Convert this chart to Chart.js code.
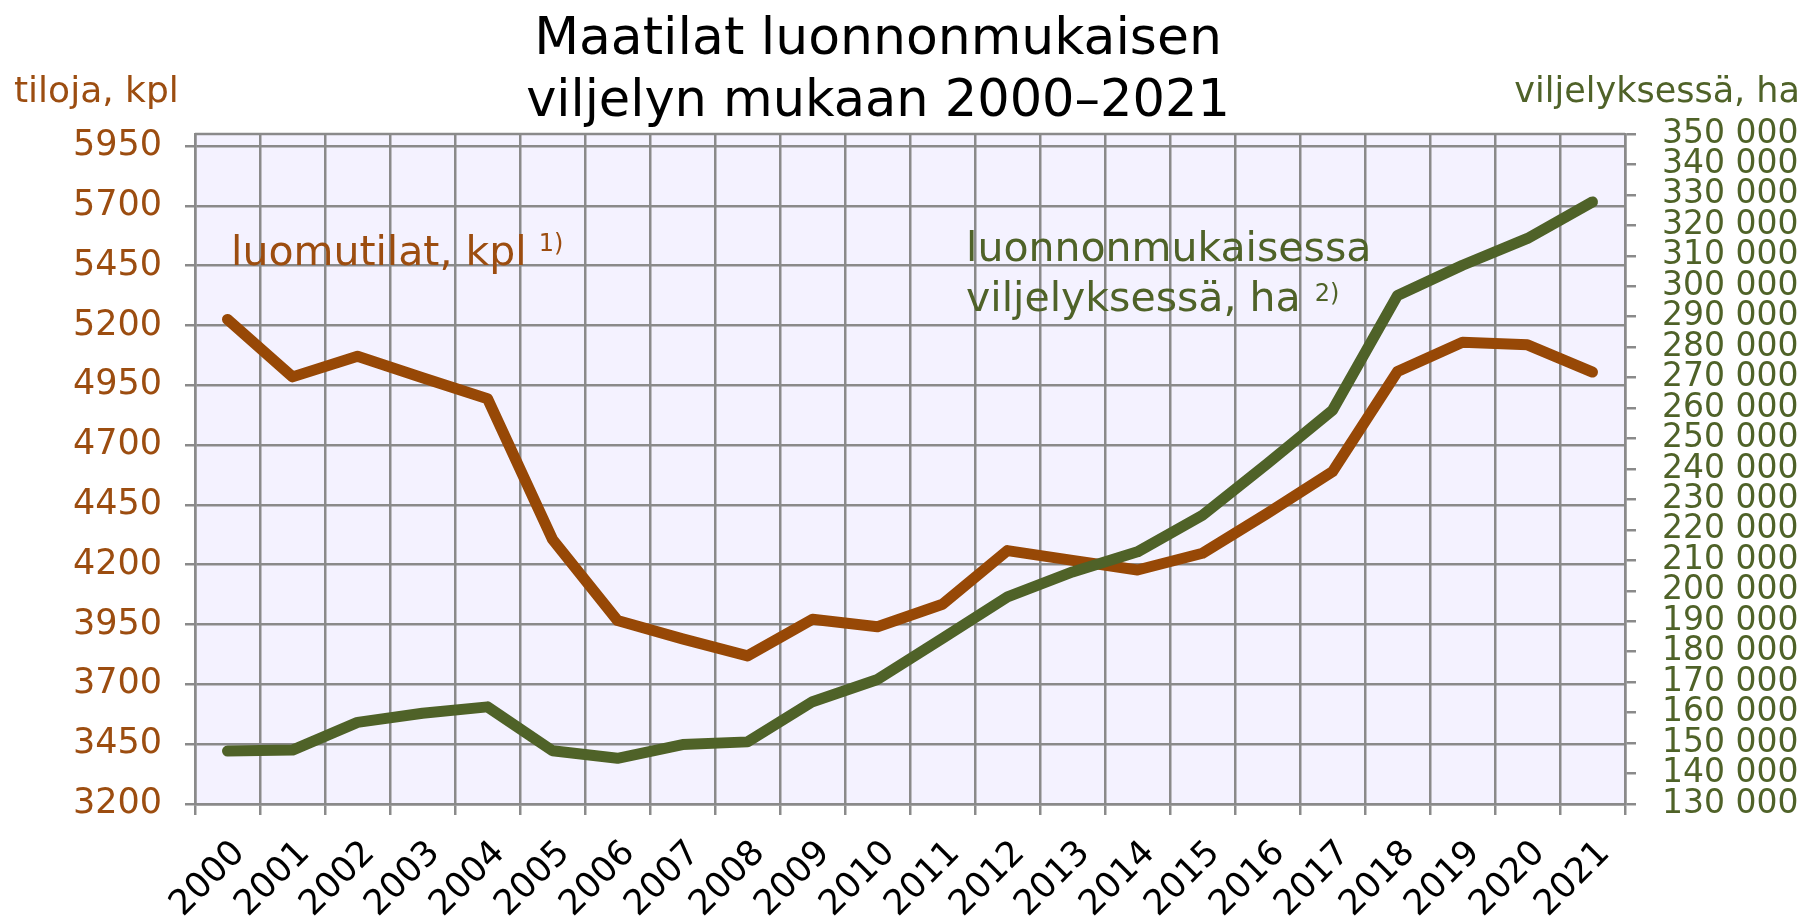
<!DOCTYPE html>
<html>
<head>
<meta charset="utf-8">
<script src="https://cdn.jsdelivr.net/npm/chart.js@4.4.1/dist/chart.umd.min.js"></script>
<style>
  html, body { margin: 0; padding: 0; background: #ffffff; }
  #wrap { width: 1812px; height: 918px; }
</style>
</head>
<body>
<div id="wrap"><canvas id="chart" width="1812" height="918"></canvas></div>
<script>
// data
const years = ['2000', '2001', '2002', '2003', '2004', '2005', '2006', '2007', '2008', '2009', '2010',
	'2011', '2012', '2013', '2014', '2015', '2016', '2017', '2018', '2019', '2020', '2021'];

// luomutilat, kpl (left axis)
const farms = [5225, 4985, 5071, 4981, 4894, 4306, 3967, 3890, 3819, 3972, 3941,
	4035, 4259, 4218, 4178, 4248, 4415, 4589, 5007, 5130, 5119, 5005];

// luonnonmukaisessa viljelyksessä, ha (right axis)
const hectares = [147400, 147700, 156800, 159800, 161900, 147500, 145000, 149500, 150400, 163600, 170900,
	184400, 198000, 206200, 212800, 224800, 241800, 259300, 297000, 306900, 315700, 327700];

const leftTicks = [3200, 3450, 3700, 3950, 4200, 4450, 4700, 4950, 5200, 5450, 5700, 5950];
const rightTicks = [130000, 140000, 150000, 160000, 170000, 180000, 190000, 200000, 210000, 220000, 230000, 240000,
	250000, 260000, 270000, 280000, 290000, 300000, 310000, 320000, 330000, 340000, 350000];

const ORANGE = '#974806';
const ORANGE_TXT = '#9C4D10';
const GREEN = '#4F6228';
const GRID = '#8a8a8a';
const FONT = "'DejaVu Sans'";

Chart.defaults.font.family = FONT;

const fmtThousands = (v) => String(v).replace(/\B(?=(\d{3})+(?!\d))/g, ' ');

// plot background and frame
const plotFrame = {
	id: 'plotFrame',
	beforeDraw(chart) {
		const { ctx, chartArea: a } = chart;
		ctx.save();
		ctx.fillStyle = '#F4F2FF';
		ctx.fillRect(a.left, a.top, a.right - a.left, a.bottom - a.top);
		ctx.restore();
	},
	beforeDatasetsDraw(chart) {
		const { ctx, chartArea: a } = chart;
		ctx.save();
		ctx.strokeStyle = GRID;
		ctx.lineWidth = 2.5;
		ctx.beginPath();
		ctx.moveTo(a.left, a.top);
		ctx.lineTo(a.right, a.top);
		ctx.stroke();
		ctx.restore();
	},
};

// title, axis titles and series labels
const texts = {
	id: 'texts',
	afterDraw(chart) {
		const ctx = chart.ctx;
		const put = (str, x, y, size, color, align) => {
			ctx.font = size + 'px ' + FONT;
			ctx.fillStyle = color;
			ctx.textAlign = align || 'left';
			ctx.textBaseline = 'alphabetic';
			ctx.fillText(str, x, y);
			return x + ctx.measureText(str).width;
		};
		ctx.save();
		put('Maatilat luonnonmukaisen', 878, 54, 52, '#000000', 'center');
		put('viljelyn mukaan 2000\u20132021', 878, 116, 51, '#000000', 'center');

		put('tiloja, kpl', 14, 102, 36, ORANGE_TXT);
		put('viljelyksessä, ha', 1800, 102, 35, GREEN, 'right');

		let end = put('luomutilat, kpl', 231, 265, 41, ORANGE_TXT);
		put('1)', end + 12, 251, 24, ORANGE_TXT);

		put('luonnonmukaisessa', 966, 261, 41, GREEN);
		end = put('viljelyksessä, ha', 966, 311, 41, GREEN);
		put('2)', end + 14, 301, 24, GREEN);
		ctx.restore();
	},
};

new Chart(document.getElementById('chart'), {
	type: 'line',
	data: {
		labels: years,
		datasets: [
			{
				label: 'luonnonmukaisessa viljelyksessä, ha',
				data: hectares,
				yAxisID: 'yRight',
				borderColor: GREEN,
				borderWidth: 11,
				borderCapStyle: 'round',
				borderJoinStyle: 'round',
				pointRadius: 0,
				tension: 0,
				order: 0,
			},
			{
				label: 'luomutilat, kpl',
				data: farms,
				yAxisID: 'yLeft',
				borderColor: ORANGE,
				borderWidth: 11,
				borderCapStyle: 'round',
				borderJoinStyle: 'round',
				pointRadius: 0,
				tension: 0,
				order: 1,
			},
		],
	},
	options: {
		responsive: false,
		animation: false,
		devicePixelRatio: 1,
		layout: { padding: { top: 134, left: 0, right: 0, bottom: 0 } },
		plugins: {
			legend: { display: false },
			title: { display: false },
			tooltip: { enabled: false },
		},
		scales: {
			x: {
				type: 'category',
				offset: true,
				grid: { offset: true, color: GRID, lineWidth: 2.5, tickLength: 11 },
				border: { display: true, color: GRID, width: 2.5 },
				ticks: {
					autoSkip: false,
					maxRotation: 45,
					minRotation: 45,
					color: '#000000',
					padding: 18,
					labelOffset: 12,
					font: { size: 35 },
				},
				afterFit(scale) { scale.height = 114; },
			},
			yLeft: {
				position: 'left',
				min: 3200,
				max: 6000,
				afterBuildTicks(scale) { scale.ticks = leftTicks.map((v) => ({ value: v })); },
				grid: { color: GRID, lineWidth: 2.5, tickLength: 10 },
				border: { display: true, color: GRID, width: 2.5 },
				ticks: {
					autoSkip: false,
					color: ORANGE_TXT,
					padding: 23,
					font: { size: 35 },
					callback: (v) => String(v),
				},
				afterFit(scale) { scale.width = 195; },
			},
			yRight: {
				position: 'right',
				min: 130000,
				max: 350000,
				afterBuildTicks(scale) { scale.ticks = rightTicks.map((v) => ({ value: v })); },
				grid: { drawOnChartArea: false, color: GRID, lineWidth: 2.5, tickLength: 11 },
				border: { display: true, color: GRID, width: 2.5 },
				ticks: {
					autoSkip: false,
					color: GREEN,
					padding: 26,
					font: { size: 33 },
					callback: (v) => fmtThousands(v),
				},
				afterFit(scale) { scale.width = 187; },
			},
		},
	},
	plugins: [plotFrame, texts],
});
</script>
</body>
</html>
